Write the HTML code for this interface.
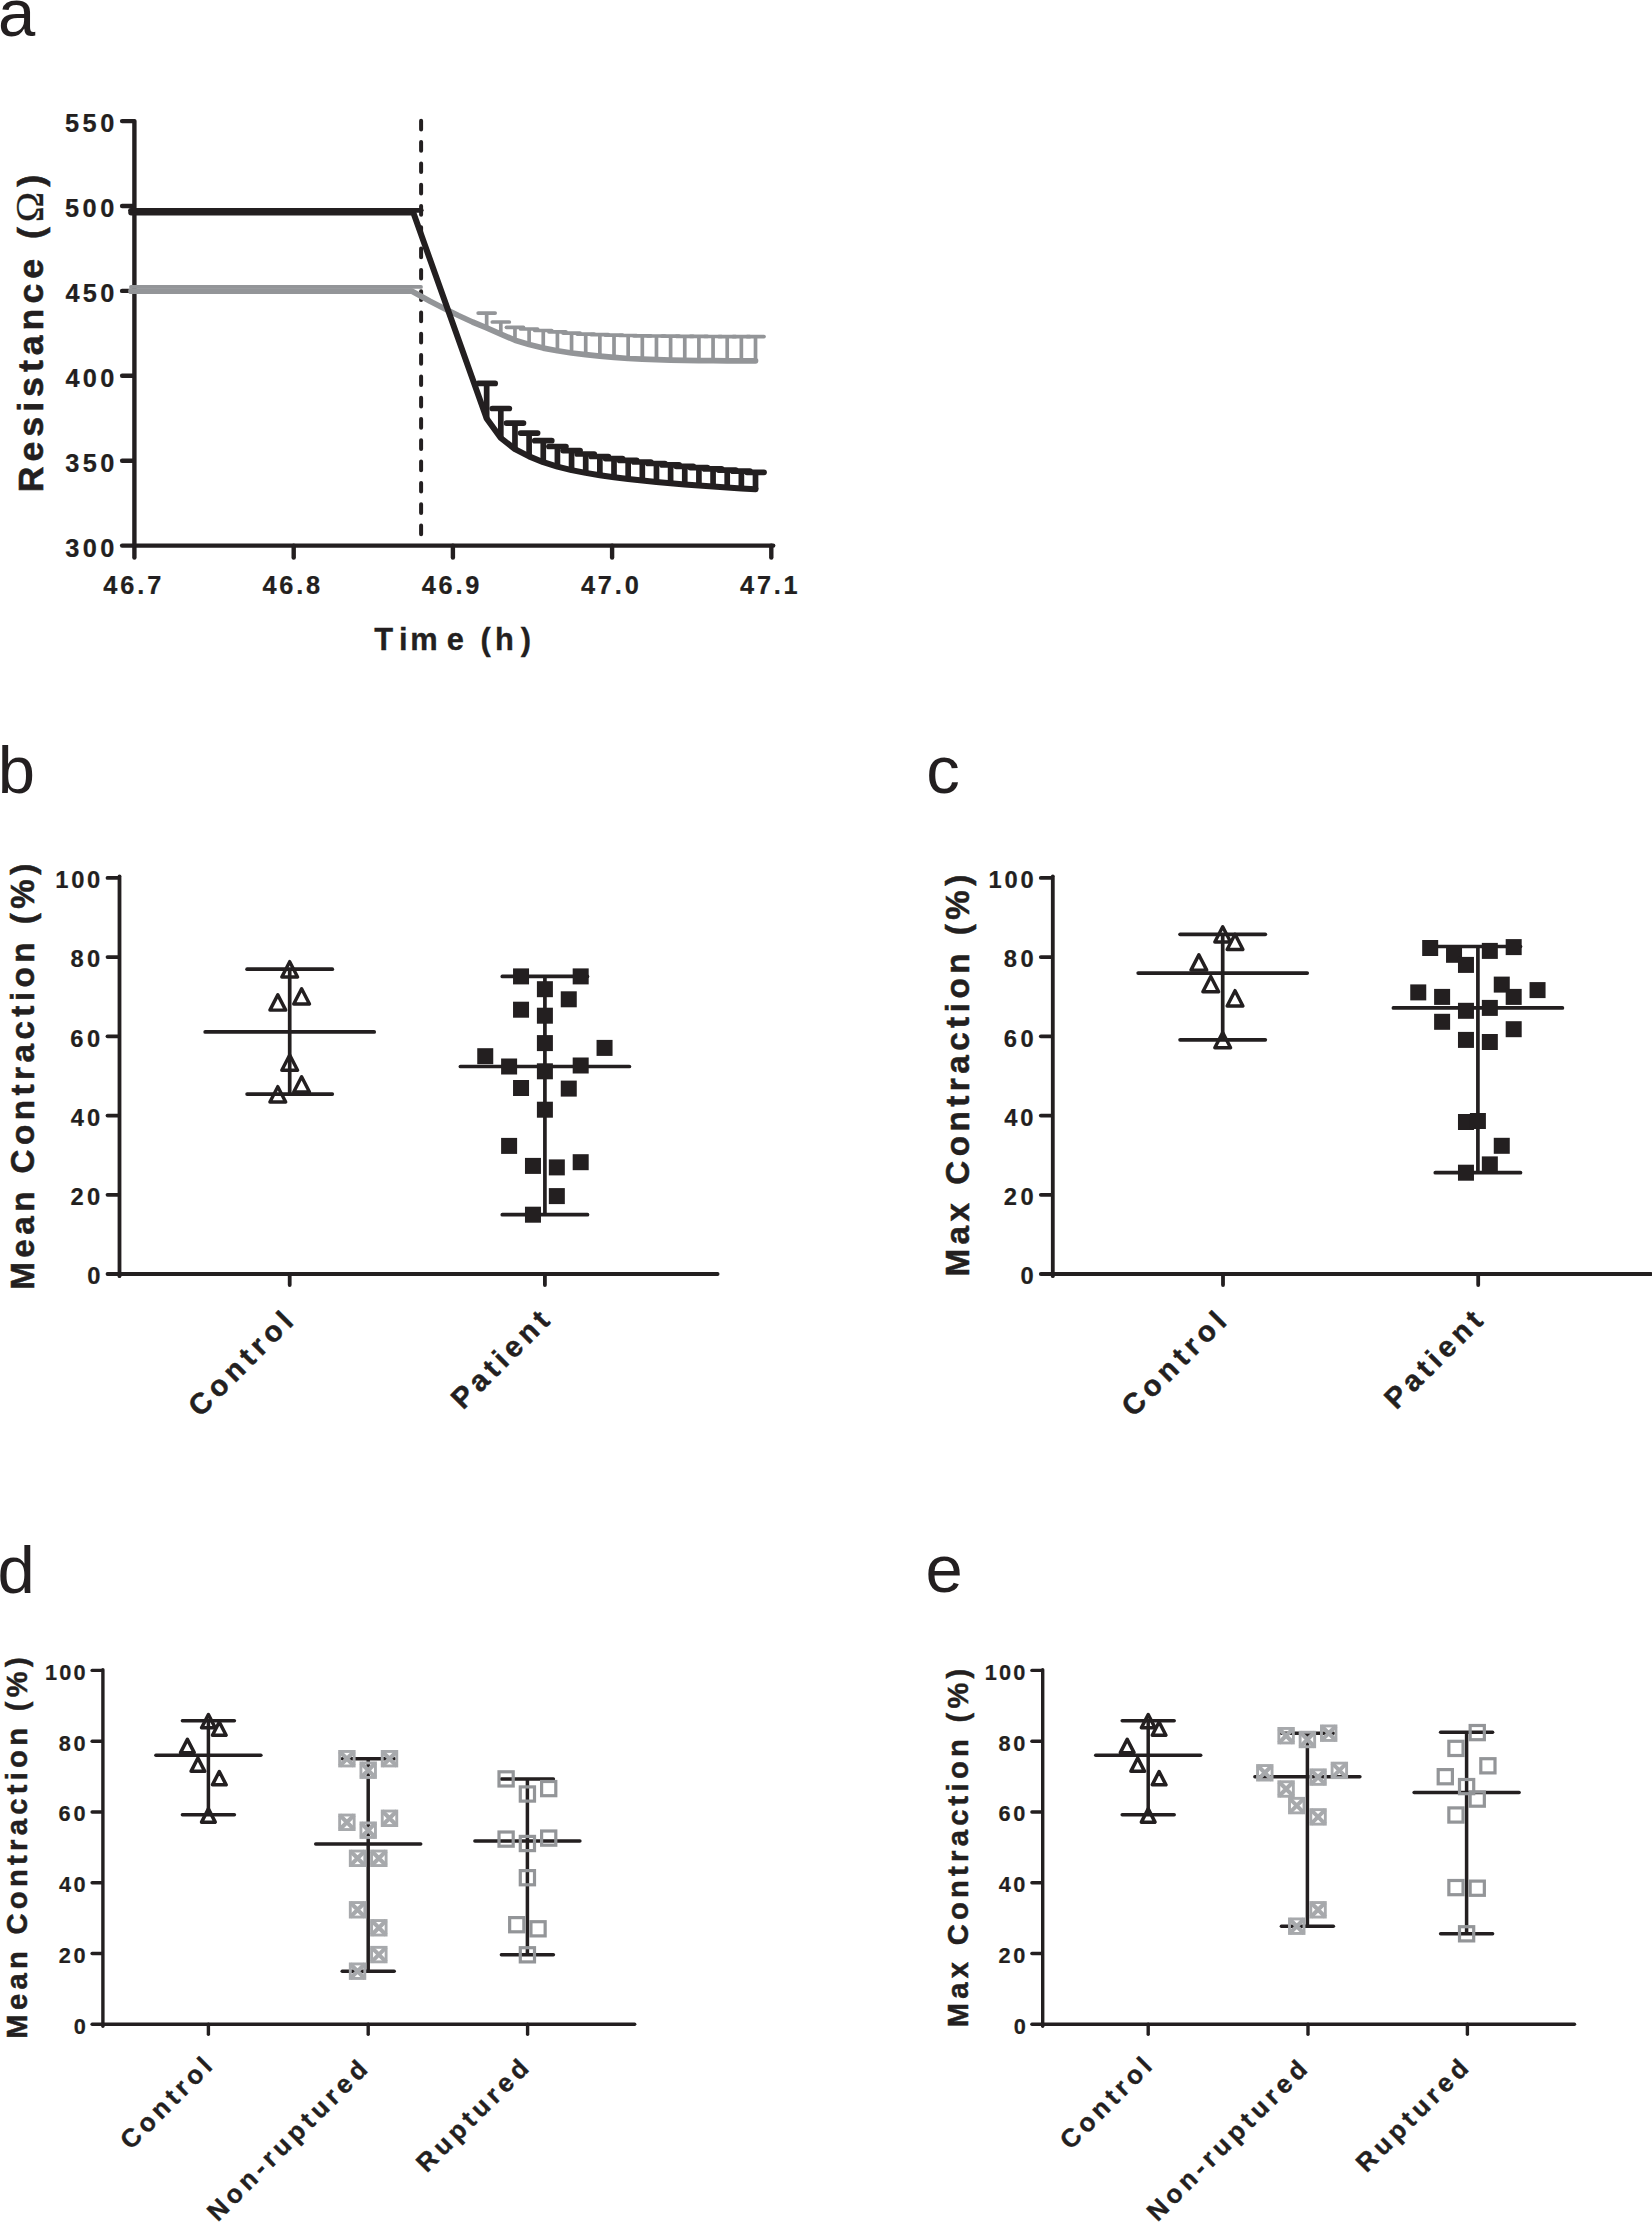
<!DOCTYPE html>
<html><head><meta charset="utf-8"><title>Figure</title>
<style>
html,body{margin:0;padding:0;background:#fff;}
body{width:1652px;height:2222px;overflow:hidden;}
svg{display:block;}
text{font-family:'Liberation Sans',sans-serif;font-kerning:none;white-space:pre;}
</style></head><body>
<svg width="1652" height="2222" viewBox="0 0 1652 2222">
<rect width="1652" height="2222" fill="#fff"/>
<line x1="134.40" y1="121.10" x2="134.40" y2="557.60" stroke="#231f20" stroke-width="4.40" stroke-linecap="round"/>
<line x1="134.40" y1="545.60" x2="773.20" y2="545.60" stroke="#231f20" stroke-width="4.40" stroke-linecap="round"/>
<line x1="122.10" y1="121.10" x2="133.40" y2="121.10" stroke="#231f20" stroke-width="4.40" stroke-linecap="round"/>
<line x1="122.10" y1="206.00" x2="133.40" y2="206.00" stroke="#231f20" stroke-width="4.40" stroke-linecap="round"/>
<line x1="122.10" y1="290.90" x2="133.40" y2="290.90" stroke="#231f20" stroke-width="4.40" stroke-linecap="round"/>
<line x1="122.10" y1="375.80" x2="133.40" y2="375.80" stroke="#231f20" stroke-width="4.40" stroke-linecap="round"/>
<line x1="122.10" y1="460.70" x2="133.40" y2="460.70" stroke="#231f20" stroke-width="4.40" stroke-linecap="round"/>
<line x1="122.10" y1="545.60" x2="133.40" y2="545.60" stroke="#231f20" stroke-width="4.40" stroke-linecap="round"/>
<line x1="293.70" y1="545.60" x2="293.70" y2="557.60" stroke="#231f20" stroke-width="4.40" stroke-linecap="round"/>
<line x1="452.90" y1="545.60" x2="452.90" y2="557.60" stroke="#231f20" stroke-width="4.40" stroke-linecap="round"/>
<line x1="612.10" y1="545.60" x2="612.10" y2="557.60" stroke="#231f20" stroke-width="4.40" stroke-linecap="round"/>
<line x1="771.30" y1="545.60" x2="771.30" y2="557.60" stroke="#231f20" stroke-width="4.40" stroke-linecap="round"/>
<text x="65.02" y="132.30" font-size="25.33" font-weight="bold" letter-spacing="3.481" fill="#231f20" stroke="#231f20" stroke-width="0.23">550</text>
<text x="65.02" y="217.20" font-size="25.33" font-weight="bold" letter-spacing="3.481" fill="#231f20" stroke="#231f20" stroke-width="0.23">500</text>
<text x="65.42" y="302.10" font-size="25.33" font-weight="bold" letter-spacing="3.283" fill="#231f20" stroke="#231f20" stroke-width="0.23">450</text>
<text x="65.42" y="387.00" font-size="25.33" font-weight="bold" letter-spacing="3.283" fill="#231f20" stroke="#231f20" stroke-width="0.23">400</text>
<text x="65.22" y="471.90" font-size="25.33" font-weight="bold" letter-spacing="3.382" fill="#231f20" stroke="#231f20" stroke-width="0.23">350</text>
<text x="65.22" y="556.80" font-size="25.33" font-weight="bold" letter-spacing="3.382" fill="#231f20" stroke="#231f20" stroke-width="0.23">300</text>
<text x="103.32" y="593.60" font-size="25.33" font-weight="bold" letter-spacing="2.868" fill="#231f20" stroke="#231f20" stroke-width="0.23">46.7</text>
<text x="262.52" y="593.60" font-size="25.33" font-weight="bold" letter-spacing="2.757" fill="#231f20" stroke="#231f20" stroke-width="0.23">46.8</text>
<text x="421.72" y="593.60" font-size="25.33" font-weight="bold" letter-spacing="2.810" fill="#231f20" stroke="#231f20" stroke-width="0.23">46.9</text>
<text x="580.92" y="593.60" font-size="25.33" font-weight="bold" letter-spacing="2.843" fill="#231f20" stroke="#231f20" stroke-width="0.23">47.0</text>
<text x="740.12" y="593.60" font-size="25.33" font-weight="bold" letter-spacing="2.732" fill="#231f20" stroke="#231f20" stroke-width="0.23">47.1</text>
<text x="374.35 399.05 410.27 446.79 460.68 480.46 494.95 520.67" y="650.00" font-size="30.85" font-weight="bold" fill="#231f20" stroke="#231f20" stroke-width="0.31">Time (h)</text>
<text x="43.20" y="492.29" font-size="35.68" font-weight="bold" letter-spacing="5.000" fill="#231f20" stroke="#231f20" stroke-width="0.57" transform="rotate(-90.000 43.20 492.29)">Resistance (<tspan font-family="'Liberation Serif', serif" font-weight="normal" font-size="41.03" stroke-width="0.3">Ω</tspan>)</text>
<text x="-1.95" y="35.50" font-size="67.00" fill="#231f20">a</text>
<line x1="421.1" y1="120.8" x2="421.1" y2="541" stroke="#231f20" stroke-width="4.0" stroke-linecap="round" stroke-dasharray="8.7 12.6"/>
<line x1="486.66" y1="313.10" x2="486.66" y2="327.80" stroke="#939598" stroke-width="3.70" stroke-linecap="butt"/>
<line x1="478.16" y1="313.10" x2="495.16" y2="313.10" stroke="#939598" stroke-width="3.70" stroke-linecap="round"/>
<line x1="500.81" y1="322.00" x2="500.81" y2="334.10" stroke="#939598" stroke-width="3.70" stroke-linecap="butt"/>
<line x1="492.31" y1="322.00" x2="509.31" y2="322.00" stroke="#939598" stroke-width="3.70" stroke-linecap="round"/>
<line x1="514.96" y1="327.30" x2="514.96" y2="340.20" stroke="#939598" stroke-width="3.70" stroke-linecap="butt"/>
<line x1="506.46" y1="327.30" x2="523.46" y2="327.30" stroke="#939598" stroke-width="3.70" stroke-linecap="round"/>
<line x1="529.11" y1="329.00" x2="529.11" y2="344.50" stroke="#939598" stroke-width="3.70" stroke-linecap="butt"/>
<line x1="520.61" y1="329.00" x2="537.61" y2="329.00" stroke="#939598" stroke-width="3.70" stroke-linecap="round"/>
<line x1="543.26" y1="330.50" x2="543.26" y2="348.10" stroke="#939598" stroke-width="3.70" stroke-linecap="butt"/>
<line x1="534.76" y1="330.50" x2="551.76" y2="330.50" stroke="#939598" stroke-width="3.70" stroke-linecap="round"/>
<line x1="557.41" y1="331.80" x2="557.41" y2="350.80" stroke="#939598" stroke-width="3.70" stroke-linecap="butt"/>
<line x1="548.91" y1="331.80" x2="565.91" y2="331.80" stroke="#939598" stroke-width="3.70" stroke-linecap="round"/>
<line x1="571.56" y1="333.10" x2="571.56" y2="353.00" stroke="#939598" stroke-width="3.70" stroke-linecap="butt"/>
<line x1="563.06" y1="333.10" x2="580.06" y2="333.10" stroke="#939598" stroke-width="3.70" stroke-linecap="round"/>
<line x1="585.71" y1="334.10" x2="585.71" y2="354.70" stroke="#939598" stroke-width="3.70" stroke-linecap="butt"/>
<line x1="577.21" y1="334.10" x2="594.21" y2="334.10" stroke="#939598" stroke-width="3.70" stroke-linecap="round"/>
<line x1="599.86" y1="334.70" x2="599.86" y2="356.20" stroke="#939598" stroke-width="3.70" stroke-linecap="butt"/>
<line x1="591.36" y1="334.70" x2="608.36" y2="334.70" stroke="#939598" stroke-width="3.70" stroke-linecap="round"/>
<line x1="614.01" y1="335.20" x2="614.01" y2="357.40" stroke="#939598" stroke-width="3.70" stroke-linecap="butt"/>
<line x1="605.51" y1="335.20" x2="622.51" y2="335.20" stroke="#939598" stroke-width="3.70" stroke-linecap="round"/>
<line x1="628.16" y1="335.50" x2="628.16" y2="358.50" stroke="#939598" stroke-width="3.70" stroke-linecap="butt"/>
<line x1="619.66" y1="335.50" x2="636.66" y2="335.50" stroke="#939598" stroke-width="3.70" stroke-linecap="round"/>
<line x1="642.31" y1="335.80" x2="642.31" y2="359.20" stroke="#939598" stroke-width="3.70" stroke-linecap="butt"/>
<line x1="633.81" y1="335.80" x2="650.81" y2="335.80" stroke="#939598" stroke-width="3.70" stroke-linecap="round"/>
<line x1="656.46" y1="336.00" x2="656.46" y2="359.70" stroke="#939598" stroke-width="3.70" stroke-linecap="butt"/>
<line x1="647.96" y1="336.00" x2="664.96" y2="336.00" stroke="#939598" stroke-width="3.70" stroke-linecap="round"/>
<line x1="670.61" y1="336.20" x2="670.61" y2="360.10" stroke="#939598" stroke-width="3.70" stroke-linecap="butt"/>
<line x1="662.11" y1="336.20" x2="679.11" y2="336.20" stroke="#939598" stroke-width="3.70" stroke-linecap="round"/>
<line x1="684.76" y1="336.30" x2="684.76" y2="360.40" stroke="#939598" stroke-width="3.70" stroke-linecap="butt"/>
<line x1="676.26" y1="336.30" x2="693.26" y2="336.30" stroke="#939598" stroke-width="3.70" stroke-linecap="round"/>
<line x1="698.91" y1="336.40" x2="698.91" y2="360.60" stroke="#939598" stroke-width="3.70" stroke-linecap="butt"/>
<line x1="690.41" y1="336.40" x2="707.41" y2="336.40" stroke="#939598" stroke-width="3.70" stroke-linecap="round"/>
<line x1="713.06" y1="336.50" x2="713.06" y2="360.70" stroke="#939598" stroke-width="3.70" stroke-linecap="butt"/>
<line x1="704.56" y1="336.50" x2="721.56" y2="336.50" stroke="#939598" stroke-width="3.70" stroke-linecap="round"/>
<line x1="727.21" y1="336.60" x2="727.21" y2="360.80" stroke="#939598" stroke-width="3.70" stroke-linecap="butt"/>
<line x1="718.71" y1="336.60" x2="735.71" y2="336.60" stroke="#939598" stroke-width="3.70" stroke-linecap="round"/>
<line x1="741.36" y1="336.60" x2="741.36" y2="360.80" stroke="#939598" stroke-width="3.70" stroke-linecap="butt"/>
<line x1="732.86" y1="336.60" x2="749.86" y2="336.60" stroke="#939598" stroke-width="3.70" stroke-linecap="round"/>
<line x1="755.51" y1="336.60" x2="755.51" y2="360.80" stroke="#939598" stroke-width="3.70" stroke-linecap="butt"/>
<line x1="747.01" y1="336.60" x2="764.01" y2="336.60" stroke="#939598" stroke-width="3.70" stroke-linecap="round"/>
<path d="M131.00 291.20L412.00 291.20L430.10 301.20L444.20 308.50L458.40 315.50L472.50 322.00L486.66 327.80L500.81 334.10L514.96 340.20L529.11 344.50L543.26 348.10L557.41 350.80L571.56 353.00L585.71 354.70L599.86 356.20L614.01 357.40L628.16 358.50L642.31 359.20L656.46 359.70L670.61 360.10L684.76 360.40L698.91 360.60L713.06 360.70L727.21 360.80L741.36 360.80L755.51 360.80" fill="none" stroke="#939598" stroke-width="5.7" stroke-linejoin="round" stroke-linecap="round"/>
<line x1="131.00" y1="286.90" x2="421.00" y2="286.90" stroke="#939598" stroke-width="3.80" stroke-linecap="round"/>
<line x1="486.66" y1="383.40" x2="486.66" y2="418.40" stroke="#231f20" stroke-width="5.70" stroke-linecap="butt"/>
<line x1="478.16" y1="383.40" x2="495.16" y2="383.40" stroke="#231f20" stroke-width="5.70" stroke-linecap="round"/>
<line x1="500.81" y1="408.50" x2="500.81" y2="438.00" stroke="#231f20" stroke-width="5.70" stroke-linecap="butt"/>
<line x1="492.31" y1="408.50" x2="509.31" y2="408.50" stroke="#231f20" stroke-width="5.70" stroke-linecap="round"/>
<line x1="514.96" y1="423.10" x2="514.96" y2="449.20" stroke="#231f20" stroke-width="5.70" stroke-linecap="butt"/>
<line x1="506.46" y1="423.10" x2="523.46" y2="423.10" stroke="#231f20" stroke-width="5.70" stroke-linecap="round"/>
<line x1="529.11" y1="433.10" x2="529.11" y2="456.40" stroke="#231f20" stroke-width="5.70" stroke-linecap="butt"/>
<line x1="520.61" y1="433.10" x2="537.61" y2="433.10" stroke="#231f20" stroke-width="5.70" stroke-linecap="round"/>
<line x1="543.26" y1="440.70" x2="543.26" y2="462.20" stroke="#231f20" stroke-width="5.70" stroke-linecap="butt"/>
<line x1="534.76" y1="440.70" x2="551.76" y2="440.70" stroke="#231f20" stroke-width="5.70" stroke-linecap="round"/>
<line x1="557.41" y1="446.50" x2="557.41" y2="466.60" stroke="#231f20" stroke-width="5.70" stroke-linecap="butt"/>
<line x1="548.91" y1="446.50" x2="565.91" y2="446.50" stroke="#231f20" stroke-width="5.70" stroke-linecap="round"/>
<line x1="571.56" y1="450.60" x2="571.56" y2="470.10" stroke="#231f20" stroke-width="5.70" stroke-linecap="butt"/>
<line x1="563.06" y1="450.60" x2="580.06" y2="450.60" stroke="#231f20" stroke-width="5.70" stroke-linecap="round"/>
<line x1="585.71" y1="454.00" x2="585.71" y2="472.90" stroke="#231f20" stroke-width="5.70" stroke-linecap="butt"/>
<line x1="577.21" y1="454.00" x2="594.21" y2="454.00" stroke="#231f20" stroke-width="5.70" stroke-linecap="round"/>
<line x1="599.86" y1="456.50" x2="599.86" y2="475.20" stroke="#231f20" stroke-width="5.70" stroke-linecap="butt"/>
<line x1="591.36" y1="456.50" x2="608.36" y2="456.50" stroke="#231f20" stroke-width="5.70" stroke-linecap="round"/>
<line x1="614.01" y1="458.60" x2="614.01" y2="477.20" stroke="#231f20" stroke-width="5.70" stroke-linecap="butt"/>
<line x1="605.51" y1="458.60" x2="622.51" y2="458.60" stroke="#231f20" stroke-width="5.70" stroke-linecap="round"/>
<line x1="628.16" y1="460.40" x2="628.16" y2="479.00" stroke="#231f20" stroke-width="5.70" stroke-linecap="butt"/>
<line x1="619.66" y1="460.40" x2="636.66" y2="460.40" stroke="#231f20" stroke-width="5.70" stroke-linecap="round"/>
<line x1="642.31" y1="462.00" x2="642.31" y2="480.50" stroke="#231f20" stroke-width="5.70" stroke-linecap="butt"/>
<line x1="633.81" y1="462.00" x2="650.81" y2="462.00" stroke="#231f20" stroke-width="5.70" stroke-linecap="round"/>
<line x1="656.46" y1="463.50" x2="656.46" y2="481.90" stroke="#231f20" stroke-width="5.70" stroke-linecap="butt"/>
<line x1="647.96" y1="463.50" x2="664.96" y2="463.50" stroke="#231f20" stroke-width="5.70" stroke-linecap="round"/>
<line x1="670.61" y1="464.90" x2="670.61" y2="483.20" stroke="#231f20" stroke-width="5.70" stroke-linecap="butt"/>
<line x1="662.11" y1="464.90" x2="679.11" y2="464.90" stroke="#231f20" stroke-width="5.70" stroke-linecap="round"/>
<line x1="684.76" y1="466.30" x2="684.76" y2="484.40" stroke="#231f20" stroke-width="5.70" stroke-linecap="butt"/>
<line x1="676.26" y1="466.30" x2="693.26" y2="466.30" stroke="#231f20" stroke-width="5.70" stroke-linecap="round"/>
<line x1="698.91" y1="467.60" x2="698.91" y2="485.50" stroke="#231f20" stroke-width="5.70" stroke-linecap="butt"/>
<line x1="690.41" y1="467.60" x2="707.41" y2="467.60" stroke="#231f20" stroke-width="5.70" stroke-linecap="round"/>
<line x1="713.06" y1="468.90" x2="713.06" y2="486.50" stroke="#231f20" stroke-width="5.70" stroke-linecap="butt"/>
<line x1="704.56" y1="468.90" x2="721.56" y2="468.90" stroke="#231f20" stroke-width="5.70" stroke-linecap="round"/>
<line x1="727.21" y1="470.10" x2="727.21" y2="487.50" stroke="#231f20" stroke-width="5.70" stroke-linecap="butt"/>
<line x1="718.71" y1="470.10" x2="735.71" y2="470.10" stroke="#231f20" stroke-width="5.70" stroke-linecap="round"/>
<line x1="741.36" y1="471.20" x2="741.36" y2="488.40" stroke="#231f20" stroke-width="5.70" stroke-linecap="butt"/>
<line x1="732.86" y1="471.20" x2="749.86" y2="471.20" stroke="#231f20" stroke-width="5.70" stroke-linecap="round"/>
<line x1="755.51" y1="472.30" x2="755.51" y2="489.20" stroke="#231f20" stroke-width="5.70" stroke-linecap="butt"/>
<line x1="747.01" y1="472.30" x2="764.01" y2="472.30" stroke="#231f20" stroke-width="5.70" stroke-linecap="round"/>
<path d="M131.20 212.60L413.30 212.60L486.66 418.40L500.81 438.00L514.96 449.20L529.11 456.40L543.26 462.20L557.41 466.60L571.56 470.10L585.71 472.90L599.86 475.20L614.01 477.20L628.16 479.00L642.31 480.50L656.46 481.90L670.61 483.20L684.76 484.40L698.91 485.50L713.06 486.50L727.21 487.50L741.36 488.40L755.51 489.20" fill="none" stroke="#231f20" stroke-width="6.0" stroke-linejoin="round" stroke-linecap="round"/>
<line x1="130.60" y1="210.30" x2="421.20" y2="210.30" stroke="#231f20" stroke-width="4.80" stroke-linecap="round"/>
<line x1="119.50" y1="876.30" x2="119.50" y2="1276.20" stroke="#231f20" stroke-width="3.80" stroke-linecap="round"/>
<line x1="119.50" y1="1274.00" x2="717.60" y2="1274.00" stroke="#231f20" stroke-width="3.80" stroke-linecap="round"/>
<line x1="107.50" y1="1274.00" x2="118.50" y2="1274.00" stroke="#231f20" stroke-width="3.80" stroke-linecap="round"/>
<text x="87.16" y="1284.20" font-size="23.72" font-weight="bold" letter-spacing="0.000" fill="#231f20" stroke="#231f20" stroke-width="0.21">0</text>
<line x1="107.50" y1="1194.78" x2="118.50" y2="1194.78" stroke="#231f20" stroke-width="3.80" stroke-linecap="round"/>
<text x="70.38" y="1204.98" font-size="23.72" font-weight="bold" letter-spacing="3.513" fill="#231f20" stroke="#231f20" stroke-width="0.21">20</text>
<line x1="107.50" y1="1115.56" x2="118.50" y2="1115.56" stroke="#231f20" stroke-width="3.80" stroke-linecap="round"/>
<text x="70.84" y="1125.76" font-size="23.72" font-weight="bold" letter-spacing="3.050" fill="#231f20" stroke="#231f20" stroke-width="0.21">40</text>
<line x1="107.50" y1="1036.34" x2="118.50" y2="1036.34" stroke="#231f20" stroke-width="3.80" stroke-linecap="round"/>
<text x="70.33" y="1046.54" font-size="23.72" font-weight="bold" letter-spacing="3.560" fill="#231f20" stroke="#231f20" stroke-width="0.21">60</text>
<line x1="107.50" y1="957.12" x2="118.50" y2="957.12" stroke="#231f20" stroke-width="3.80" stroke-linecap="round"/>
<text x="70.45" y="967.32" font-size="23.72" font-weight="bold" letter-spacing="3.444" fill="#231f20" stroke="#231f20" stroke-width="0.21">80</text>
<line x1="107.50" y1="877.90" x2="118.50" y2="877.90" stroke="#231f20" stroke-width="3.80" stroke-linecap="round"/>
<text x="55.21" y="888.10" font-size="23.72" font-weight="bold" letter-spacing="2.747" fill="#231f20" stroke="#231f20" stroke-width="0.21">100</text>
<line x1="289.70" y1="1274.00" x2="289.70" y2="1285.00" stroke="#231f20" stroke-width="3.80" stroke-linecap="round"/>
<line x1="544.90" y1="1274.00" x2="544.90" y2="1285.00" stroke="#231f20" stroke-width="3.80" stroke-linecap="round"/>
<text x="34.30" y="1289.82" font-size="33.16" font-weight="bold" letter-spacing="4.495" fill="#231f20" stroke="#231f20" stroke-width="0.53" transform="rotate(-90.000 34.30 1289.82)">Mean Contraction (%)</text>
<text x="-2.37" y="793.00" font-size="67.00" fill="#231f20">b</text>
<text x="200.13" y="1417.97" font-size="29.14" font-weight="bold" letter-spacing="5.026" fill="#231f20" stroke="#231f20" stroke-width="0.47" transform="rotate(-45.000 200.13 1417.97)">Control</text>
<text x="463.06" y="1410.54" font-size="29.14" font-weight="bold" letter-spacing="4.556" fill="#231f20" stroke="#231f20" stroke-width="0.47" transform="rotate(-45.000 463.06 1410.54)">Patient</text>
<line x1="289.70" y1="969.20" x2="289.70" y2="1094.10" stroke="#231f20" stroke-width="3.70" stroke-linecap="butt"/>
<line x1="247.10" y1="969.20" x2="332.30" y2="969.20" stroke="#231f20" stroke-width="3.70" stroke-linecap="round"/>
<line x1="247.10" y1="1094.10" x2="332.30" y2="1094.10" stroke="#231f20" stroke-width="3.70" stroke-linecap="round"/>
<line x1="205.20" y1="1031.90" x2="374.20" y2="1031.90" stroke="#231f20" stroke-width="3.70" stroke-linecap="round"/>
<path d="M289.70 961.67L297.57 976.92L281.82 976.92Z" fill="none" stroke="#231f20" stroke-width="3.45" stroke-linejoin="round"/>
<path d="M301.60 988.77L309.48 1004.02L293.73 1004.02Z" fill="none" stroke="#231f20" stroke-width="3.45" stroke-linejoin="round"/>
<path d="M277.80 994.88L285.68 1010.12L269.93 1010.12Z" fill="none" stroke="#231f20" stroke-width="3.45" stroke-linejoin="round"/>
<path d="M289.70 1055.08L297.57 1070.33L281.82 1070.33Z" fill="none" stroke="#231f20" stroke-width="3.45" stroke-linejoin="round"/>
<path d="M301.60 1076.78L309.48 1092.03L293.73 1092.03Z" fill="none" stroke="#231f20" stroke-width="3.45" stroke-linejoin="round"/>
<path d="M277.80 1086.67L285.68 1101.92L269.93 1101.92Z" fill="none" stroke="#231f20" stroke-width="3.45" stroke-linejoin="round"/>
<line x1="544.90" y1="976.40" x2="544.90" y2="1214.70" stroke="#231f20" stroke-width="3.70" stroke-linecap="butt"/>
<line x1="502.30" y1="976.40" x2="587.50" y2="976.40" stroke="#231f20" stroke-width="3.70" stroke-linecap="round"/>
<line x1="502.30" y1="1214.70" x2="587.50" y2="1214.70" stroke="#231f20" stroke-width="3.70" stroke-linecap="round"/>
<line x1="460.40" y1="1066.50" x2="629.40" y2="1066.50" stroke="#231f20" stroke-width="3.70" stroke-linecap="round"/>
<rect x="513.04" y="968.40" width="16.00" height="16.00" fill="#231f20"/>
<rect x="572.69" y="968.40" width="16.00" height="16.00" fill="#231f20"/>
<rect x="536.90" y="981.20" width="16.00" height="16.00" fill="#231f20"/>
<rect x="560.76" y="991.30" width="16.00" height="16.00" fill="#231f20"/>
<rect x="513.04" y="1001.70" width="16.00" height="16.00" fill="#231f20"/>
<rect x="536.90" y="1007.70" width="16.00" height="16.00" fill="#231f20"/>
<rect x="536.90" y="1035.10" width="16.00" height="16.00" fill="#231f20"/>
<rect x="596.55" y="1039.90" width="16.00" height="16.00" fill="#231f20"/>
<rect x="477.25" y="1048.20" width="16.00" height="16.00" fill="#231f20"/>
<rect x="501.11" y="1058.50" width="16.00" height="16.00" fill="#231f20"/>
<rect x="572.69" y="1057.50" width="16.00" height="16.00" fill="#231f20"/>
<rect x="536.90" y="1063.30" width="16.00" height="16.00" fill="#231f20"/>
<rect x="513.04" y="1080.00" width="16.00" height="16.00" fill="#231f20"/>
<rect x="560.76" y="1080.60" width="16.00" height="16.00" fill="#231f20"/>
<rect x="536.90" y="1101.70" width="16.00" height="16.00" fill="#231f20"/>
<rect x="501.11" y="1137.90" width="16.00" height="16.00" fill="#231f20"/>
<rect x="524.97" y="1157.90" width="16.00" height="16.00" fill="#231f20"/>
<rect x="548.83" y="1159.40" width="16.00" height="16.00" fill="#231f20"/>
<rect x="572.69" y="1154.20" width="16.00" height="16.00" fill="#231f20"/>
<rect x="548.83" y="1188.10" width="16.00" height="16.00" fill="#231f20"/>
<rect x="524.97" y="1206.70" width="16.00" height="16.00" fill="#231f20"/>
<line x1="1052.80" y1="876.30" x2="1052.80" y2="1276.20" stroke="#231f20" stroke-width="3.80" stroke-linecap="round"/>
<line x1="1052.80" y1="1274.00" x2="1650.90" y2="1274.00" stroke="#231f20" stroke-width="3.80" stroke-linecap="round"/>
<line x1="1040.80" y1="1274.00" x2="1051.80" y2="1274.00" stroke="#231f20" stroke-width="3.80" stroke-linecap="round"/>
<text x="1020.46" y="1284.20" font-size="23.72" font-weight="bold" letter-spacing="0.000" fill="#231f20" stroke="#231f20" stroke-width="0.21">0</text>
<line x1="1040.80" y1="1194.78" x2="1051.80" y2="1194.78" stroke="#231f20" stroke-width="3.80" stroke-linecap="round"/>
<text x="1003.68" y="1204.98" font-size="23.72" font-weight="bold" letter-spacing="3.513" fill="#231f20" stroke="#231f20" stroke-width="0.21">20</text>
<line x1="1040.80" y1="1115.56" x2="1051.80" y2="1115.56" stroke="#231f20" stroke-width="3.80" stroke-linecap="round"/>
<text x="1004.14" y="1125.76" font-size="23.72" font-weight="bold" letter-spacing="3.050" fill="#231f20" stroke="#231f20" stroke-width="0.21">40</text>
<line x1="1040.80" y1="1036.34" x2="1051.80" y2="1036.34" stroke="#231f20" stroke-width="3.80" stroke-linecap="round"/>
<text x="1003.63" y="1046.54" font-size="23.72" font-weight="bold" letter-spacing="3.560" fill="#231f20" stroke="#231f20" stroke-width="0.21">60</text>
<line x1="1040.80" y1="957.12" x2="1051.80" y2="957.12" stroke="#231f20" stroke-width="3.80" stroke-linecap="round"/>
<text x="1003.75" y="967.32" font-size="23.72" font-weight="bold" letter-spacing="3.444" fill="#231f20" stroke="#231f20" stroke-width="0.21">80</text>
<line x1="1040.80" y1="877.90" x2="1051.80" y2="877.90" stroke="#231f20" stroke-width="3.80" stroke-linecap="round"/>
<text x="988.51" y="888.10" font-size="23.72" font-weight="bold" letter-spacing="2.747" fill="#231f20" stroke="#231f20" stroke-width="0.21">100</text>
<line x1="1223.00" y1="1274.00" x2="1223.00" y2="1285.00" stroke="#231f20" stroke-width="3.80" stroke-linecap="round"/>
<line x1="1478.20" y1="1274.00" x2="1478.20" y2="1285.00" stroke="#231f20" stroke-width="3.80" stroke-linecap="round"/>
<text x="968.90" y="1276.52" font-size="33.16" font-weight="bold" letter-spacing="4.515" fill="#231f20" stroke="#231f20" stroke-width="0.53" transform="rotate(-90.000 968.90 1276.52)">Max Contraction (%)</text>
<text x="926.15" y="793.00" font-size="67.00" fill="#231f20">c</text>
<text x="1133.43" y="1417.97" font-size="29.14" font-weight="bold" letter-spacing="5.026" fill="#231f20" stroke="#231f20" stroke-width="0.47" transform="rotate(-45.000 1133.43 1417.97)">Control</text>
<text x="1396.36" y="1410.54" font-size="29.14" font-weight="bold" letter-spacing="4.556" fill="#231f20" stroke="#231f20" stroke-width="0.47" transform="rotate(-45.000 1396.36 1410.54)">Patient</text>
<line x1="1222.70" y1="934.30" x2="1222.70" y2="1039.80" stroke="#231f20" stroke-width="3.70" stroke-linecap="butt"/>
<line x1="1180.10" y1="934.30" x2="1265.30" y2="934.30" stroke="#231f20" stroke-width="3.70" stroke-linecap="round"/>
<line x1="1180.10" y1="1039.80" x2="1265.30" y2="1039.80" stroke="#231f20" stroke-width="3.70" stroke-linecap="round"/>
<line x1="1138.20" y1="973.10" x2="1307.20" y2="973.10" stroke="#231f20" stroke-width="3.70" stroke-linecap="round"/>
<path d="M1222.70 926.77L1230.58 942.02L1214.83 942.02Z" fill="none" stroke="#231f20" stroke-width="3.45" stroke-linejoin="round"/>
<path d="M1235.03 934.27L1242.91 949.52L1227.16 949.52Z" fill="none" stroke="#231f20" stroke-width="3.45" stroke-linejoin="round"/>
<path d="M1198.84 954.88L1206.72 970.12L1190.97 970.12Z" fill="none" stroke="#231f20" stroke-width="3.45" stroke-linejoin="round"/>
<path d="M1210.77 976.48L1218.64 991.73L1202.89 991.73Z" fill="none" stroke="#231f20" stroke-width="3.45" stroke-linejoin="round"/>
<path d="M1235.03 990.67L1242.91 1005.92L1227.16 1005.92Z" fill="none" stroke="#231f20" stroke-width="3.45" stroke-linejoin="round"/>
<path d="M1222.70 1032.58L1230.58 1047.83L1214.83 1047.83Z" fill="none" stroke="#231f20" stroke-width="3.45" stroke-linejoin="round"/>
<line x1="1477.90" y1="946.50" x2="1477.90" y2="1172.70" stroke="#231f20" stroke-width="3.70" stroke-linecap="butt"/>
<line x1="1435.30" y1="946.50" x2="1520.50" y2="946.50" stroke="#231f20" stroke-width="3.70" stroke-linecap="round"/>
<line x1="1435.30" y1="1172.70" x2="1520.50" y2="1172.70" stroke="#231f20" stroke-width="3.70" stroke-linecap="round"/>
<line x1="1393.40" y1="1007.90" x2="1562.40" y2="1007.90" stroke="#231f20" stroke-width="3.70" stroke-linecap="round"/>
<rect x="1422.18" y="940.00" width="16.00" height="16.00" fill="#231f20"/>
<rect x="1505.69" y="939.10" width="16.00" height="16.00" fill="#231f20"/>
<rect x="1481.83" y="942.90" width="16.00" height="16.00" fill="#231f20"/>
<rect x="1446.04" y="946.80" width="16.00" height="16.00" fill="#231f20"/>
<rect x="1457.97" y="956.90" width="16.00" height="16.00" fill="#231f20"/>
<rect x="1493.76" y="976.60" width="16.00" height="16.00" fill="#231f20"/>
<rect x="1529.55" y="982.10" width="16.00" height="16.00" fill="#231f20"/>
<rect x="1410.25" y="984.40" width="16.00" height="16.00" fill="#231f20"/>
<rect x="1434.11" y="988.90" width="16.00" height="16.00" fill="#231f20"/>
<rect x="1505.69" y="988.90" width="16.00" height="16.00" fill="#231f20"/>
<rect x="1481.83" y="999.90" width="16.00" height="16.00" fill="#231f20"/>
<rect x="1457.97" y="1002.80" width="16.00" height="16.00" fill="#231f20"/>
<rect x="1434.11" y="1013.80" width="16.00" height="16.00" fill="#231f20"/>
<rect x="1505.69" y="1021.20" width="16.00" height="16.00" fill="#231f20"/>
<rect x="1457.97" y="1031.90" width="16.00" height="16.00" fill="#231f20"/>
<rect x="1481.83" y="1034.00" width="16.00" height="16.00" fill="#231f20"/>
<rect x="1457.97" y="1114.00" width="16.00" height="16.00" fill="#231f20"/>
<rect x="1469.90" y="1113.00" width="16.00" height="16.00" fill="#231f20"/>
<rect x="1493.76" y="1137.80" width="16.00" height="16.00" fill="#231f20"/>
<rect x="1481.83" y="1156.40" width="16.00" height="16.00" fill="#231f20"/>
<rect x="1457.97" y="1164.70" width="16.00" height="16.00" fill="#231f20"/>
<line x1="102.90" y1="1669.80" x2="102.90" y2="2026.30" stroke="#231f20" stroke-width="3.40" stroke-linecap="round"/>
<line x1="102.90" y1="2024.30" x2="634.70" y2="2024.30" stroke="#231f20" stroke-width="3.40" stroke-linecap="round"/>
<line x1="92.10" y1="2024.30" x2="101.90" y2="2024.30" stroke="#231f20" stroke-width="3.40" stroke-linecap="round"/>
<text x="73.84" y="2033.70" font-size="21.71" font-weight="bold" letter-spacing="0.000" fill="#231f20" stroke="#231f20" stroke-width="0.20">0</text>
<line x1="92.10" y1="1953.52" x2="101.90" y2="1953.52" stroke="#231f20" stroke-width="3.40" stroke-linecap="round"/>
<text x="58.65" y="1962.92" font-size="21.71" font-weight="bold" letter-spacing="2.797" fill="#231f20" stroke="#231f20" stroke-width="0.20">20</text>
<line x1="92.10" y1="1882.74" x2="101.90" y2="1882.74" stroke="#231f20" stroke-width="3.40" stroke-linecap="round"/>
<text x="59.07" y="1892.14" font-size="21.71" font-weight="bold" letter-spacing="2.373" fill="#231f20" stroke="#231f20" stroke-width="0.20">40</text>
<line x1="92.10" y1="1811.96" x2="101.90" y2="1811.96" stroke="#231f20" stroke-width="3.40" stroke-linecap="round"/>
<text x="58.61" y="1821.36" font-size="21.71" font-weight="bold" letter-spacing="2.839" fill="#231f20" stroke="#231f20" stroke-width="0.20">60</text>
<line x1="92.10" y1="1741.18" x2="101.90" y2="1741.18" stroke="#231f20" stroke-width="3.40" stroke-linecap="round"/>
<text x="58.71" y="1750.58" font-size="21.71" font-weight="bold" letter-spacing="2.733" fill="#231f20" stroke="#231f20" stroke-width="0.20">80</text>
<line x1="92.10" y1="1670.40" x2="101.90" y2="1670.40" stroke="#231f20" stroke-width="3.40" stroke-linecap="round"/>
<text x="44.93" y="1679.80" font-size="21.71" font-weight="bold" letter-spacing="2.219" fill="#231f20" stroke="#231f20" stroke-width="0.20">100</text>
<line x1="208.40" y1="2024.30" x2="208.40" y2="2034.30" stroke="#231f20" stroke-width="3.40" stroke-linecap="round"/>
<line x1="368.20" y1="2024.30" x2="368.20" y2="2034.30" stroke="#231f20" stroke-width="3.40" stroke-linecap="round"/>
<line x1="527.60" y1="2024.30" x2="527.60" y2="2034.30" stroke="#231f20" stroke-width="3.40" stroke-linecap="round"/>
<text x="27.00" y="2038.65" font-size="29.14" font-weight="bold" letter-spacing="4.313" fill="#231f20" stroke="#231f20" stroke-width="0.47" transform="rotate(-90.000 27.00 2038.65)">Mean Contraction (%)</text>
<text x="-2.41" y="1592.50" font-size="67.00" fill="#231f20">d</text>
<text x="130.71" y="2150.84" font-size="25.83" font-weight="bold" letter-spacing="4.246" fill="#231f20" stroke="#231f20" stroke-width="0.41" transform="rotate(-45.000 130.71 2150.84)">Control</text>
<text x="217.63" y="2222.47" font-size="25.83" font-weight="bold" letter-spacing="4.450" fill="#231f20" stroke="#231f20" stroke-width="0.41" transform="rotate(-45.000 217.63 2222.47)">Non-ruptured</text>
<text x="426.80" y="2173.40" font-size="25.83" font-weight="bold" letter-spacing="4.493" fill="#231f20" stroke="#231f20" stroke-width="0.41" transform="rotate(-45.000 426.80 2173.40)">Ruptured</text>
<line x1="208.40" y1="1720.70" x2="208.40" y2="1814.80" stroke="#231f20" stroke-width="3.50" stroke-linecap="butt"/>
<line x1="182.40" y1="1720.70" x2="234.40" y2="1720.70" stroke="#231f20" stroke-width="3.50" stroke-linecap="round"/>
<line x1="182.40" y1="1814.80" x2="234.40" y2="1814.80" stroke="#231f20" stroke-width="3.50" stroke-linecap="round"/>
<line x1="155.90" y1="1755.30" x2="260.90" y2="1755.30" stroke="#231f20" stroke-width="3.50" stroke-linecap="round"/>
<path d="M208.40 1714.55L215.25 1727.85L201.55 1727.85Z" fill="none" stroke="#231f20" stroke-width="3.50" stroke-linejoin="round"/>
<path d="M219.30 1721.95L226.15 1735.25L212.45 1735.25Z" fill="none" stroke="#231f20" stroke-width="3.50" stroke-linejoin="round"/>
<path d="M187.40 1739.35L194.25 1752.65L180.55 1752.65Z" fill="none" stroke="#231f20" stroke-width="3.50" stroke-linejoin="round"/>
<path d="M197.90 1758.05L204.75 1771.35L191.05 1771.35Z" fill="none" stroke="#231f20" stroke-width="3.50" stroke-linejoin="round"/>
<path d="M219.30 1771.55L226.15 1784.85L212.45 1784.85Z" fill="none" stroke="#231f20" stroke-width="3.50" stroke-linejoin="round"/>
<path d="M208.40 1808.85L215.25 1822.15L201.55 1822.15Z" fill="none" stroke="#231f20" stroke-width="3.50" stroke-linejoin="round"/>
<line x1="368.20" y1="1758.70" x2="368.20" y2="1971.20" stroke="#231f20" stroke-width="3.50" stroke-linecap="butt"/>
<line x1="342.20" y1="1758.70" x2="394.20" y2="1758.70" stroke="#231f20" stroke-width="3.50" stroke-linecap="round"/>
<line x1="342.20" y1="1971.20" x2="394.20" y2="1971.20" stroke="#231f20" stroke-width="3.50" stroke-linecap="round"/>
<line x1="315.70" y1="1844.10" x2="420.70" y2="1844.10" stroke="#231f20" stroke-width="3.50" stroke-linecap="round"/>
<path d="M339.65 1751.45L354.15 1765.95M354.15 1751.45L339.65 1765.95" fill="none" stroke="#a7a9ac" stroke-width="4.09"/>
<rect x="339.65" y="1751.45" width="14.50" height="14.50" fill="none" stroke="#a7a9ac" stroke-width="2.90"/>
<path d="M382.25 1751.45L396.75 1765.95M396.75 1751.45L382.25 1765.95" fill="none" stroke="#a7a9ac" stroke-width="4.09"/>
<rect x="382.25" y="1751.45" width="14.50" height="14.50" fill="none" stroke="#a7a9ac" stroke-width="2.90"/>
<path d="M360.95 1762.95L375.45 1777.45M375.45 1762.95L360.95 1777.45" fill="none" stroke="#a7a9ac" stroke-width="4.09"/>
<rect x="360.95" y="1762.95" width="14.50" height="14.50" fill="none" stroke="#a7a9ac" stroke-width="2.90"/>
<path d="M339.65 1815.05L354.15 1829.55M354.15 1815.05L339.65 1829.55" fill="none" stroke="#a7a9ac" stroke-width="4.09"/>
<rect x="339.65" y="1815.05" width="14.50" height="14.50" fill="none" stroke="#a7a9ac" stroke-width="2.90"/>
<path d="M382.25 1811.05L396.75 1825.55M396.75 1811.05L382.25 1825.55" fill="none" stroke="#a7a9ac" stroke-width="4.09"/>
<rect x="382.25" y="1811.05" width="14.50" height="14.50" fill="none" stroke="#a7a9ac" stroke-width="2.90"/>
<path d="M360.95 1822.95L375.45 1837.45M375.45 1822.95L360.95 1837.45" fill="none" stroke="#a7a9ac" stroke-width="4.09"/>
<rect x="360.95" y="1822.95" width="14.50" height="14.50" fill="none" stroke="#a7a9ac" stroke-width="2.90"/>
<path d="M350.30 1851.05L364.80 1865.55M364.80 1851.05L350.30 1865.55" fill="none" stroke="#a7a9ac" stroke-width="4.09"/>
<rect x="350.30" y="1851.05" width="14.50" height="14.50" fill="none" stroke="#a7a9ac" stroke-width="2.90"/>
<path d="M371.60 1851.05L386.10 1865.55M386.10 1851.05L371.60 1865.55" fill="none" stroke="#a7a9ac" stroke-width="4.09"/>
<rect x="371.60" y="1851.05" width="14.50" height="14.50" fill="none" stroke="#a7a9ac" stroke-width="2.90"/>
<path d="M350.30 1902.55L364.80 1917.05M364.80 1902.55L350.30 1917.05" fill="none" stroke="#a7a9ac" stroke-width="4.09"/>
<rect x="350.30" y="1902.55" width="14.50" height="14.50" fill="none" stroke="#a7a9ac" stroke-width="2.90"/>
<path d="M371.60 1920.55L386.10 1935.05M386.10 1920.55L371.60 1935.05" fill="none" stroke="#a7a9ac" stroke-width="4.09"/>
<rect x="371.60" y="1920.55" width="14.50" height="14.50" fill="none" stroke="#a7a9ac" stroke-width="2.90"/>
<path d="M371.60 1947.35L386.10 1961.85M386.10 1947.35L371.60 1961.85" fill="none" stroke="#a7a9ac" stroke-width="4.09"/>
<rect x="371.60" y="1947.35" width="14.50" height="14.50" fill="none" stroke="#a7a9ac" stroke-width="2.90"/>
<path d="M350.30 1963.95L364.80 1978.45M364.80 1963.95L350.30 1978.45" fill="none" stroke="#a7a9ac" stroke-width="4.09"/>
<rect x="350.30" y="1963.95" width="14.50" height="14.50" fill="none" stroke="#a7a9ac" stroke-width="2.90"/>
<line x1="527.40" y1="1778.90" x2="527.40" y2="1954.80" stroke="#231f20" stroke-width="3.50" stroke-linecap="butt"/>
<line x1="501.40" y1="1778.90" x2="553.40" y2="1778.90" stroke="#231f20" stroke-width="3.50" stroke-linecap="round"/>
<line x1="501.40" y1="1954.80" x2="553.40" y2="1954.80" stroke="#231f20" stroke-width="3.50" stroke-linecap="round"/>
<line x1="474.90" y1="1840.90" x2="579.90" y2="1840.90" stroke="#231f20" stroke-width="3.50" stroke-linecap="round"/>
<rect x="499.00" y="1771.80" width="14.20" height="14.20" fill="none" stroke="#939598" stroke-width="3.20"/>
<rect x="520.30" y="1786.90" width="14.20" height="14.20" fill="none" stroke="#939598" stroke-width="3.20"/>
<rect x="541.60" y="1781.50" width="14.20" height="14.20" fill="none" stroke="#939598" stroke-width="3.20"/>
<rect x="499.00" y="1832.00" width="14.20" height="14.20" fill="none" stroke="#939598" stroke-width="3.20"/>
<rect x="541.60" y="1831.00" width="14.20" height="14.20" fill="none" stroke="#939598" stroke-width="3.20"/>
<rect x="520.30" y="1836.40" width="14.20" height="14.20" fill="none" stroke="#939598" stroke-width="3.20"/>
<rect x="520.30" y="1870.60" width="14.20" height="14.20" fill="none" stroke="#939598" stroke-width="3.20"/>
<rect x="509.65" y="1917.60" width="14.20" height="14.20" fill="none" stroke="#939598" stroke-width="3.20"/>
<rect x="530.95" y="1921.70" width="14.20" height="14.20" fill="none" stroke="#939598" stroke-width="3.20"/>
<rect x="520.30" y="1947.70" width="14.20" height="14.20" fill="none" stroke="#939598" stroke-width="3.20"/>
<line x1="1042.70" y1="1669.80" x2="1042.70" y2="2026.30" stroke="#231f20" stroke-width="3.40" stroke-linecap="round"/>
<line x1="1042.70" y1="2024.30" x2="1574.50" y2="2024.30" stroke="#231f20" stroke-width="3.40" stroke-linecap="round"/>
<line x1="1031.90" y1="2024.30" x2="1041.70" y2="2024.30" stroke="#231f20" stroke-width="3.40" stroke-linecap="round"/>
<text x="1013.64" y="2033.70" font-size="21.71" font-weight="bold" letter-spacing="0.000" fill="#231f20" stroke="#231f20" stroke-width="0.20">0</text>
<line x1="1031.90" y1="1953.52" x2="1041.70" y2="1953.52" stroke="#231f20" stroke-width="3.40" stroke-linecap="round"/>
<text x="998.45" y="1962.92" font-size="21.71" font-weight="bold" letter-spacing="2.797" fill="#231f20" stroke="#231f20" stroke-width="0.20">20</text>
<line x1="1031.90" y1="1882.74" x2="1041.70" y2="1882.74" stroke="#231f20" stroke-width="3.40" stroke-linecap="round"/>
<text x="998.87" y="1892.14" font-size="21.71" font-weight="bold" letter-spacing="2.373" fill="#231f20" stroke="#231f20" stroke-width="0.20">40</text>
<line x1="1031.90" y1="1811.96" x2="1041.70" y2="1811.96" stroke="#231f20" stroke-width="3.40" stroke-linecap="round"/>
<text x="998.41" y="1821.36" font-size="21.71" font-weight="bold" letter-spacing="2.839" fill="#231f20" stroke="#231f20" stroke-width="0.20">60</text>
<line x1="1031.90" y1="1741.18" x2="1041.70" y2="1741.18" stroke="#231f20" stroke-width="3.40" stroke-linecap="round"/>
<text x="998.51" y="1750.58" font-size="21.71" font-weight="bold" letter-spacing="2.733" fill="#231f20" stroke="#231f20" stroke-width="0.20">80</text>
<line x1="1031.90" y1="1670.40" x2="1041.70" y2="1670.40" stroke="#231f20" stroke-width="3.40" stroke-linecap="round"/>
<text x="984.73" y="1679.80" font-size="21.71" font-weight="bold" letter-spacing="2.219" fill="#231f20" stroke="#231f20" stroke-width="0.20">100</text>
<line x1="1148.20" y1="2024.30" x2="1148.20" y2="2034.30" stroke="#231f20" stroke-width="3.40" stroke-linecap="round"/>
<line x1="1308.00" y1="2024.30" x2="1308.00" y2="2034.30" stroke="#231f20" stroke-width="3.40" stroke-linecap="round"/>
<line x1="1467.40" y1="2024.30" x2="1467.40" y2="2034.30" stroke="#231f20" stroke-width="3.40" stroke-linecap="round"/>
<text x="967.70" y="2027.15" font-size="29.14" font-weight="bold" letter-spacing="4.270" fill="#231f20" stroke="#231f20" stroke-width="0.47" transform="rotate(-90.000 967.70 2027.15)">Max Contraction (%)</text>
<text x="925.55" y="1592.10" font-size="67.00" fill="#231f20">e</text>
<text x="1070.51" y="2150.84" font-size="25.83" font-weight="bold" letter-spacing="4.246" fill="#231f20" stroke="#231f20" stroke-width="0.41" transform="rotate(-45.000 1070.51 2150.84)">Control</text>
<text x="1157.43" y="2222.47" font-size="25.83" font-weight="bold" letter-spacing="4.450" fill="#231f20" stroke="#231f20" stroke-width="0.41" transform="rotate(-45.000 1157.43 2222.47)">Non-ruptured</text>
<text x="1366.60" y="2173.40" font-size="25.83" font-weight="bold" letter-spacing="4.493" fill="#231f20" stroke="#231f20" stroke-width="0.41" transform="rotate(-45.000 1366.60 2173.40)">Ruptured</text>
<line x1="1148.20" y1="1720.70" x2="1148.20" y2="1814.80" stroke="#231f20" stroke-width="3.50" stroke-linecap="butt"/>
<line x1="1122.20" y1="1720.70" x2="1174.20" y2="1720.70" stroke="#231f20" stroke-width="3.50" stroke-linecap="round"/>
<line x1="1122.20" y1="1814.80" x2="1174.20" y2="1814.80" stroke="#231f20" stroke-width="3.50" stroke-linecap="round"/>
<line x1="1095.70" y1="1755.30" x2="1200.70" y2="1755.30" stroke="#231f20" stroke-width="3.50" stroke-linecap="round"/>
<path d="M1148.20 1714.55L1155.05 1727.85L1141.35 1727.85Z" fill="none" stroke="#231f20" stroke-width="3.50" stroke-linejoin="round"/>
<path d="M1159.10 1721.95L1165.95 1735.25L1152.25 1735.25Z" fill="none" stroke="#231f20" stroke-width="3.50" stroke-linejoin="round"/>
<path d="M1127.20 1739.35L1134.05 1752.65L1120.35 1752.65Z" fill="none" stroke="#231f20" stroke-width="3.50" stroke-linejoin="round"/>
<path d="M1137.70 1758.05L1144.55 1771.35L1130.85 1771.35Z" fill="none" stroke="#231f20" stroke-width="3.50" stroke-linejoin="round"/>
<path d="M1159.10 1771.55L1165.95 1784.85L1152.25 1784.85Z" fill="none" stroke="#231f20" stroke-width="3.50" stroke-linejoin="round"/>
<path d="M1148.20 1808.85L1155.05 1822.15L1141.35 1822.15Z" fill="none" stroke="#231f20" stroke-width="3.50" stroke-linejoin="round"/>
<line x1="1307.40" y1="1733.20" x2="1307.40" y2="1926.20" stroke="#231f20" stroke-width="3.50" stroke-linecap="butt"/>
<line x1="1281.40" y1="1733.20" x2="1333.40" y2="1733.20" stroke="#231f20" stroke-width="3.50" stroke-linecap="round"/>
<line x1="1281.40" y1="1926.20" x2="1333.40" y2="1926.20" stroke="#231f20" stroke-width="3.50" stroke-linecap="round"/>
<line x1="1254.90" y1="1776.70" x2="1359.90" y2="1776.70" stroke="#231f20" stroke-width="3.50" stroke-linecap="round"/>
<path d="M1278.85 1728.45L1293.35 1742.95M1293.35 1728.45L1278.85 1742.95" fill="none" stroke="#a7a9ac" stroke-width="4.09"/>
<rect x="1278.85" y="1728.45" width="14.50" height="14.50" fill="none" stroke="#a7a9ac" stroke-width="2.90"/>
<path d="M1300.15 1732.25L1314.65 1746.75M1314.65 1732.25L1300.15 1746.75" fill="none" stroke="#a7a9ac" stroke-width="4.09"/>
<rect x="1300.15" y="1732.25" width="14.50" height="14.50" fill="none" stroke="#a7a9ac" stroke-width="2.90"/>
<path d="M1321.45 1725.95L1335.95 1740.45M1335.95 1725.95L1321.45 1740.45" fill="none" stroke="#a7a9ac" stroke-width="4.09"/>
<rect x="1321.45" y="1725.95" width="14.50" height="14.50" fill="none" stroke="#a7a9ac" stroke-width="2.90"/>
<path d="M1257.55 1765.55L1272.05 1780.05M1272.05 1765.55L1257.55 1780.05" fill="none" stroke="#a7a9ac" stroke-width="4.09"/>
<rect x="1257.55" y="1765.55" width="14.50" height="14.50" fill="none" stroke="#a7a9ac" stroke-width="2.90"/>
<path d="M1310.80 1769.85L1325.30 1784.35M1325.30 1769.85L1310.80 1784.35" fill="none" stroke="#a7a9ac" stroke-width="4.09"/>
<rect x="1310.80" y="1769.85" width="14.50" height="14.50" fill="none" stroke="#a7a9ac" stroke-width="2.90"/>
<path d="M1332.10 1763.15L1346.60 1777.65M1346.60 1763.15L1332.10 1777.65" fill="none" stroke="#a7a9ac" stroke-width="4.09"/>
<rect x="1332.10" y="1763.15" width="14.50" height="14.50" fill="none" stroke="#a7a9ac" stroke-width="2.90"/>
<path d="M1278.85 1781.75L1293.35 1796.25M1293.35 1781.75L1278.85 1796.25" fill="none" stroke="#a7a9ac" stroke-width="4.09"/>
<rect x="1278.85" y="1781.75" width="14.50" height="14.50" fill="none" stroke="#a7a9ac" stroke-width="2.90"/>
<path d="M1289.50 1798.35L1304.00 1812.85M1304.00 1798.35L1289.50 1812.85" fill="none" stroke="#a7a9ac" stroke-width="4.09"/>
<rect x="1289.50" y="1798.35" width="14.50" height="14.50" fill="none" stroke="#a7a9ac" stroke-width="2.90"/>
<path d="M1310.80 1809.65L1325.30 1824.15M1325.30 1809.65L1310.80 1824.15" fill="none" stroke="#a7a9ac" stroke-width="4.09"/>
<rect x="1310.80" y="1809.65" width="14.50" height="14.50" fill="none" stroke="#a7a9ac" stroke-width="2.90"/>
<path d="M1310.80 1902.55L1325.30 1917.05M1325.30 1902.55L1310.80 1917.05" fill="none" stroke="#a7a9ac" stroke-width="4.09"/>
<rect x="1310.80" y="1902.55" width="14.50" height="14.50" fill="none" stroke="#a7a9ac" stroke-width="2.90"/>
<path d="M1289.50 1918.95L1304.00 1933.45M1304.00 1918.95L1289.50 1933.45" fill="none" stroke="#a7a9ac" stroke-width="4.09"/>
<rect x="1289.50" y="1918.95" width="14.50" height="14.50" fill="none" stroke="#a7a9ac" stroke-width="2.90"/>
<line x1="1466.60" y1="1732.20" x2="1466.60" y2="1933.80" stroke="#231f20" stroke-width="3.50" stroke-linecap="butt"/>
<line x1="1440.60" y1="1732.20" x2="1492.60" y2="1732.20" stroke="#231f20" stroke-width="3.50" stroke-linecap="round"/>
<line x1="1440.60" y1="1933.80" x2="1492.60" y2="1933.80" stroke="#231f20" stroke-width="3.50" stroke-linecap="round"/>
<line x1="1414.10" y1="1792.60" x2="1519.10" y2="1792.60" stroke="#231f20" stroke-width="3.50" stroke-linecap="round"/>
<rect x="1470.15" y="1725.50" width="14.20" height="14.20" fill="none" stroke="#939598" stroke-width="3.20"/>
<rect x="1448.85" y="1741.30" width="14.20" height="14.20" fill="none" stroke="#939598" stroke-width="3.20"/>
<rect x="1480.80" y="1758.70" width="14.20" height="14.20" fill="none" stroke="#939598" stroke-width="3.20"/>
<rect x="1438.20" y="1769.60" width="14.20" height="14.20" fill="none" stroke="#939598" stroke-width="3.20"/>
<rect x="1459.50" y="1779.50" width="14.20" height="14.20" fill="none" stroke="#939598" stroke-width="3.20"/>
<rect x="1470.15" y="1792.00" width="14.20" height="14.20" fill="none" stroke="#939598" stroke-width="3.20"/>
<rect x="1448.85" y="1807.90" width="14.20" height="14.20" fill="none" stroke="#939598" stroke-width="3.20"/>
<rect x="1448.85" y="1880.50" width="14.20" height="14.20" fill="none" stroke="#939598" stroke-width="3.20"/>
<rect x="1470.15" y="1881.10" width="14.20" height="14.20" fill="none" stroke="#939598" stroke-width="3.20"/>
<rect x="1459.50" y="1926.70" width="14.20" height="14.20" fill="none" stroke="#939598" stroke-width="3.20"/>
</svg>
</body></html>
